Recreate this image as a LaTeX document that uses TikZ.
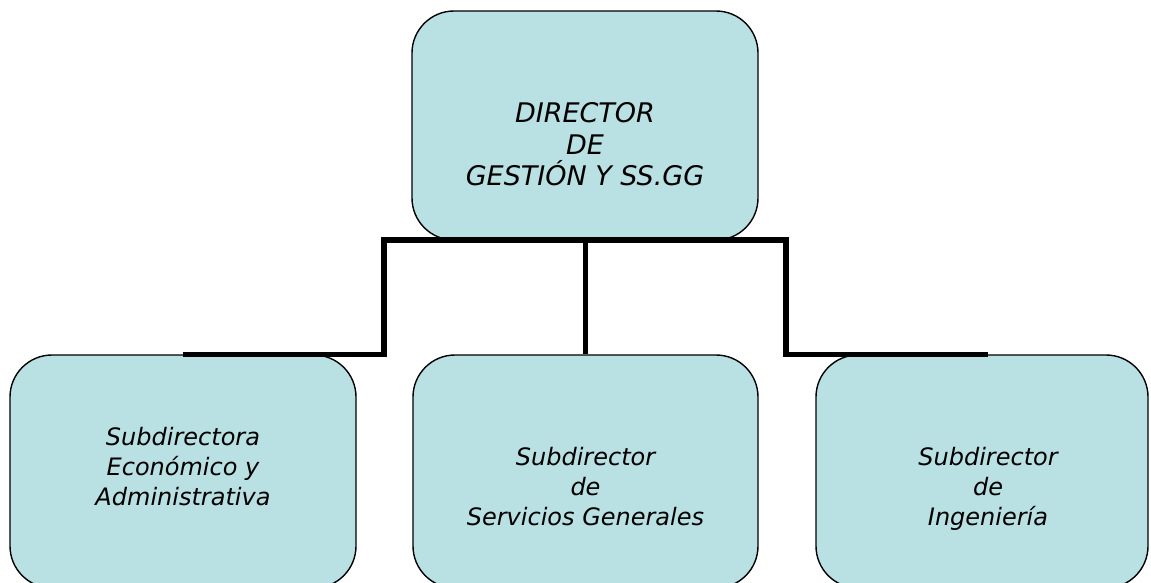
\documentclass[tikz,border=0pt]{standalone}
\usepackage{fontspec}
\setmainfont{DejaVu Sans}
\definecolor{boxfill}{RGB}{185,224,227}
\begin{document}
\begin{tikzpicture}[x=1pt,y=-1pt,
  box/.style={draw=black, line width=1.4pt, fill=boxfill, rounded corners=42pt, inner sep=0pt},
  conn/.style={draw=black, line width=5.5pt},
  toptext/.style={font=\fontsize{27}{31.5}\selectfont\itshape, align=center, inner sep=0pt, anchor=north},
  subtext/.style={font=\fontsize{24}{30}\selectfont\itshape, align=center, inner sep=0pt, anchor=north}]
\useasboundingbox (0,0) rectangle (1151,582);
\clip (0,0) rectangle (1151,582);
% boxes
\node[box, minimum width=346pt, minimum height=229pt] (top) at (585,125.5) {};
\node[box, minimum width=346pt, minimum height=233pt] (sub1) at (183,471.5) {};
\node[box, minimum width=345pt, minimum height=233pt] (sub2) at (585.5,471.5) {};
\node[box, minimum width=332pt, minimum height=233pt] (sub3) at (982,471.5) {};
% texts
\node[toptext] (ttop) at (585,102.3) {DIRECTOR\\DE\\GESTIÓN Y SS.GG};
\node[subtext] (t1) at (183,426.8) {Subdirectora\\ Económico y\\Administrativa};
\node[subtext] (t2) at (585.5,446.8) {Subdirector\\de\\Servicios Generales};
\node[subtext] (t3) at (988,446.8) {Subdirector\\de\\Ingeniería};
% connectors
\coordinate (busL) at (384,240);
\coordinate (busR) at (786,240);
\draw[conn] (sub1.north) -| (busL) -- (busR) |- ([xshift=6pt]sub3.north);
\draw[conn] (top.south -| sub2.north) -- (sub2.north);
\end{tikzpicture}
\end{document}
